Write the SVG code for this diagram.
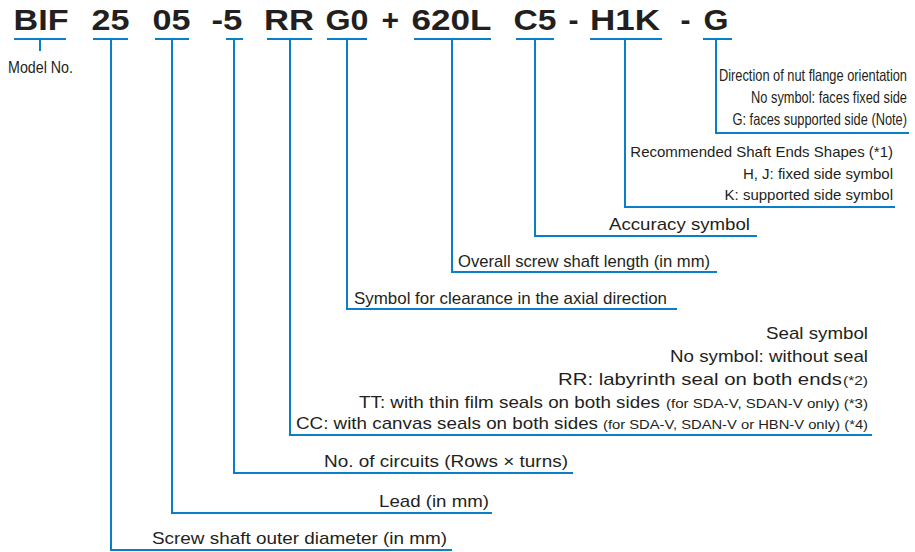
<svg xmlns="http://www.w3.org/2000/svg" width="915" height="552" viewBox="0 0 915 552">
<style>
.code{font-family:"Liberation Sans",Arial,sans-serif;font-weight:bold;font-size:30px;fill:#231f20}
.lbl{font-family:"Liberation Sans",Arial,sans-serif;font-size:17px;fill:#231f20}
.sm{font-family:"Liberation Sans",Arial,sans-serif;font-size:12px;fill:#231f20}
.nar{font-family:"Liberation Sans",Arial,sans-serif;font-size:16.5px;fill:#231f20}
.mid{font-family:"Liberation Sans",Arial,sans-serif;font-size:15px;fill:#231f20}
.ln{fill:none;stroke:#0a7fc9;stroke-width:2}
</style>
<rect width="915" height="552" fill="#ffffff"/>
<g id="code">
<g id="n-BIF"><text class="code" x="13.5" y="30" textLength="55" lengthAdjust="spacingAndGlyphs">BIF</text></g>
<g id="n-25"><text class="code" x="91.5" y="30" textLength="38" lengthAdjust="spacingAndGlyphs">25</text></g>
<g id="n-05"><text class="code" x="152.5" y="30" textLength="38" lengthAdjust="spacingAndGlyphs">05</text></g>
<g id="n-m5"><text class="code" x="211.5" y="30" textLength="31" lengthAdjust="spacingAndGlyphs">-5</text></g>
<g id="n-RR"><text class="code" x="264" y="30" textLength="50" lengthAdjust="spacingAndGlyphs">RR</text></g>
<g id="n-G0"><text class="code" x="325.5" y="30" textLength="43" lengthAdjust="spacingAndGlyphs">G0</text></g>
<g id="n-plus"><text class="code" x="381.5" y="30">+</text></g>
<g id="n-620L"><text class="code" x="411.5" y="30" textLength="80" lengthAdjust="spacingAndGlyphs">620L</text></g>
<g id="n-C5"><text class="code" x="513.5" y="30" textLength="43" lengthAdjust="spacingAndGlyphs">C5</text></g>
<g id="n-dash1"><text class="code" x="568.5" y="30">-</text></g>
<g id="n-H1K"><text class="code" x="590" y="30" textLength="70" lengthAdjust="spacingAndGlyphs">H1K</text></g>
<g id="n-dash2"><text class="code" x="680.5" y="30">-</text></g>
<g id="n-G"><text class="code" x="703.5" y="30" textLength="25" lengthAdjust="spacingAndGlyphs">G</text></g>
</g>
<g id="connectors">
<path class="ln" d="M14 39H66M40 39V51"/>
<path class="ln" d="M93 39H128M111 39V550H452"/>
<path class="ln" d="M155 39H189M172 39V513H492"/>
<path class="ln" d="M226 39H243M234 39V473H573"/>
<path class="ln" d="M267 39H312M290 39V435H872"/>
<path class="ln" d="M327 39H367M347 39V309H677"/>
<path class="ln" d="M414 39H491M452 39V272H717"/>
<path class="ln" d="M516 39H554M535 39V236H757"/>
<path class="ln" d="M590 39H662M625 39V207H895"/>
<path class="ln" d="M703 39H732M716 39V133H909"/>
</g>
<g id="l-model"><text class="nar" x="8" y="73" textLength="65" lengthAdjust="spacingAndGlyphs">Model No.</text></g>
<g id="l-flange">
<text class="nar" transform="translate(907 81) scale(0.777 1)" text-anchor="end">Direction of nut flange orientation</text>
<text class="nar" transform="translate(907 103) scale(0.777 1)" text-anchor="end">No symbol: faces fixed side</text>
<text class="nar" transform="translate(907 125) scale(0.777 1)" text-anchor="end">G: faces supported side (Note)</text>
</g>
<g id="l-shaftends">
<text class="mid" x="893" y="157" text-anchor="end">Recommended Shaft Ends Shapes (*1)</text>
<text class="mid" x="893" y="179" text-anchor="end">H, J: fixed side symbol</text>
<text class="mid" x="893" y="200" text-anchor="end">K: supported side symbol</text>
</g>
<g id="l-accuracy"><text class="lbl" x="609" y="230" textLength="141" lengthAdjust="spacingAndGlyphs">Accuracy symbol</text></g>
<g id="l-length"><text class="lbl" x="458" y="267" textLength="252" lengthAdjust="spacingAndGlyphs">Overall screw shaft length (in mm)</text></g>
<g id="l-clearance"><text class="lbl" x="354" y="304" textLength="313" lengthAdjust="spacingAndGlyphs">Symbol for clearance in the axial direction</text></g>
<g id="l-seal">
<text class="lbl" x="766" y="339" textLength="102" lengthAdjust="spacingAndGlyphs">Seal symbol</text>
<text class="lbl" x="670" y="362" textLength="198" lengthAdjust="spacingAndGlyphs">No symbol: without seal</text>
<text class="lbl" x="558" y="385" textLength="284" lengthAdjust="spacingAndGlyphs">RR: labyrinth seal on both ends</text>
<text class="sm" x="843" y="385" textLength="25" lengthAdjust="spacingAndGlyphs">(*2)</text>
<text class="lbl" x="359" y="408" textLength="301" lengthAdjust="spacingAndGlyphs">TT: with thin film seals on both sides</text>
<text class="sm" x="666" y="408" textLength="202" lengthAdjust="spacingAndGlyphs">(for SDA-V, SDAN-V only) (*3)</text>
<text class="lbl" x="296" y="429" textLength="302" lengthAdjust="spacingAndGlyphs">CC: with canvas seals on both sides</text>
<text class="sm" x="603" y="429" textLength="265" lengthAdjust="spacingAndGlyphs">(for SDA-V, SDAN-V or HBN-V only) (*4)</text>
</g>
<g id="l-circuits"><text class="lbl" x="324" y="467" textLength="244" lengthAdjust="spacingAndGlyphs">No. of circuits (Rows × turns)</text></g>
<g id="l-lead"><text class="lbl" x="379" y="507" textLength="110" lengthAdjust="spacingAndGlyphs">Lead (in mm)</text></g>
<g id="l-diameter"><text class="lbl" x="152" y="544" textLength="295" lengthAdjust="spacingAndGlyphs">Screw shaft outer diameter (in mm)</text></g>
</svg>
